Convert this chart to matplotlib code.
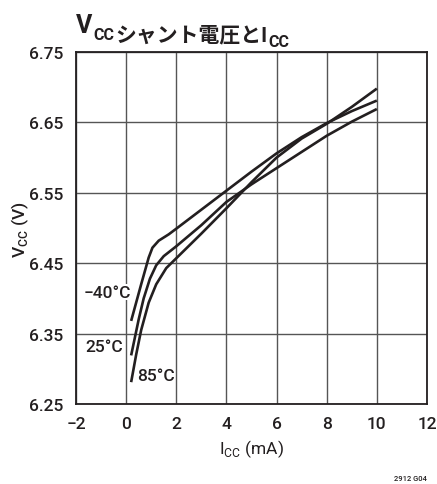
import matplotlib
matplotlib.use("Agg")
import matplotlib.pyplot as plt

# ---- data ----
x_m40 = [0.2, 0.6, 0.9, 1.05, 1.3, 1.7, 2.0, 3.0, 4.0, 5.0, 6.0, 7.0, 8.0, 9.0, 10.0]
v_m40 = [6.368, 6.420, 6.458, 6.472, 6.482, 6.491, 6.499, 6.526, 6.553, 6.580, 6.606, 6.629, 6.649, 6.666, 6.681]

x_25 = [0.2, 0.5, 0.7, 0.95, 1.2, 1.5, 2.0, 3.0, 4.0, 5.0, 6.0, 7.0, 8.0, 9.0, 10.0]
v_25 = [6.319, 6.370, 6.400, 6.428, 6.447, 6.460, 6.474, 6.504, 6.537, 6.562, 6.585, 6.608, 6.631, 6.651, 6.669]

x_85 = [0.2, 0.4, 0.6, 0.9, 1.2, 1.6, 2.0, 3.0, 4.0, 5.0, 6.0, 7.0, 8.0, 9.0, 10.0]
v_85 = [6.281, 6.320, 6.355, 6.394, 6.420, 6.443, 6.457, 6.492, 6.528, 6.565, 6.600, 6.627, 6.648, 6.672, 6.698]

series_labels = ["\u221240\u00b0C", "25\u00b0C", "85\u00b0C"]
x_ticks = [-2, 0, 2, 4, 6, 8, 10, 12]
y_ticks = [6.25, 6.35, 6.45, 6.55, 6.65, 6.75]

latin = "Roboto"
fam = [latin, "Noto Sans CJK JP", "DejaVu Sans"]
plt.rcParams["font.family"] = fam
plt.rcParams["font.weight"] = "medium"
plt.rcParams["mathtext.fontset"] = "custom"
plt.rcParams["mathtext.rm"] = latin + ":medium"

ink = "#231f20"
fs = 12.5
fig = plt.figure(figsize=(4.37, 4.85), dpi=100)
ax = fig.add_axes([0.1739, 0.165, 0.977 - 0.1739, 0.8907 - 0.165])

for xs, vs in [(x_m40, v_m40), (x_25, v_25), (x_85, v_85)]:
    ax.plot(xs, vs, color=ink, lw=1.9, solid_capstyle="butt", zorder=3)

ax.set_xlim(-2, 12)
ax.set_ylim(6.25, 6.75)
ax.set_xticks(x_ticks)
ax.set_yticks(y_ticks)
ax.set_xticklabels(["\u22122" if t == -2 else str(t) for t in x_ticks])
ax.set_yticklabels([f"{t:.2f}" for t in y_ticks])
ax.tick_params(length=0, labelsize=fs, pad=9, colors=ink)
ax.grid(True, color="#555555", lw=1.0)
for s in ax.spines.values():
    s.set_color(ink)
    s.set_linewidth(1.3)

ax.set_xlabel(r"I$_{\mathregular{CC}}$ (mA)", fontsize=fs, color=ink, labelpad=4)
fig.text(20 / 437, 1 - 230 / 485, r"V$_{\mathregular{CC}}$ (V)", fontsize=fs, color=ink,
         rotation=90, ha="center", va="center")

# series labels
bb = dict(facecolor="white", edgecolor="none", pad=0.5)
ax.text(0.18, 6.409, series_labels[0], fontsize=fs, color=ink, ha="right", va="center", bbox=bb, zorder=4)
ax.text(-0.12, 6.331, series_labels[1], fontsize=fs, color=ink, ha="right", va="center", bbox=bb, zorder=4)
ax.text(0.42, 6.291, series_labels[2], fontsize=fs, color=ink, ha="left", va="center", bbox=bb, zorder=4)

# title with subscripts
t1 = fig.text(76 / 437, 1 - 33 / 485, "V", fontsize=18, fontweight="bold", color=ink,
              ha="left", va="baseline")
t2 = ax.annotate("CC", xy=(1, 0), xycoords=t1, xytext=(0.5, -1.5), textcoords="offset points",
                 fontsize=11.5, fontweight="bold", color=ink, ha="left", va="baseline",
                 annotation_clip=False)
t3 = ax.annotate("シャント電圧とI", xy=(1, 0), xycoords=t2, xytext=(1, 1.5), textcoords="offset points",
                 fontsize=15, fontweight="bold", color=ink, ha="left", va="baseline",
                 annotation_clip=False)
t4 = ax.annotate("CC", xy=(1, 0), xycoords=t3, xytext=(0.5, -1.5), textcoords="offset points",
                 fontsize=11.5, fontweight="bold", color=ink, ha="left", va="baseline",
                 annotation_clip=False)

fig.text(427 / 437, 1 - 481 / 485, "2912 G04", fontsize=5.5, color=ink, ha="right", va="baseline")

fig.savefig("out.png", dpi=100, facecolor="white")
